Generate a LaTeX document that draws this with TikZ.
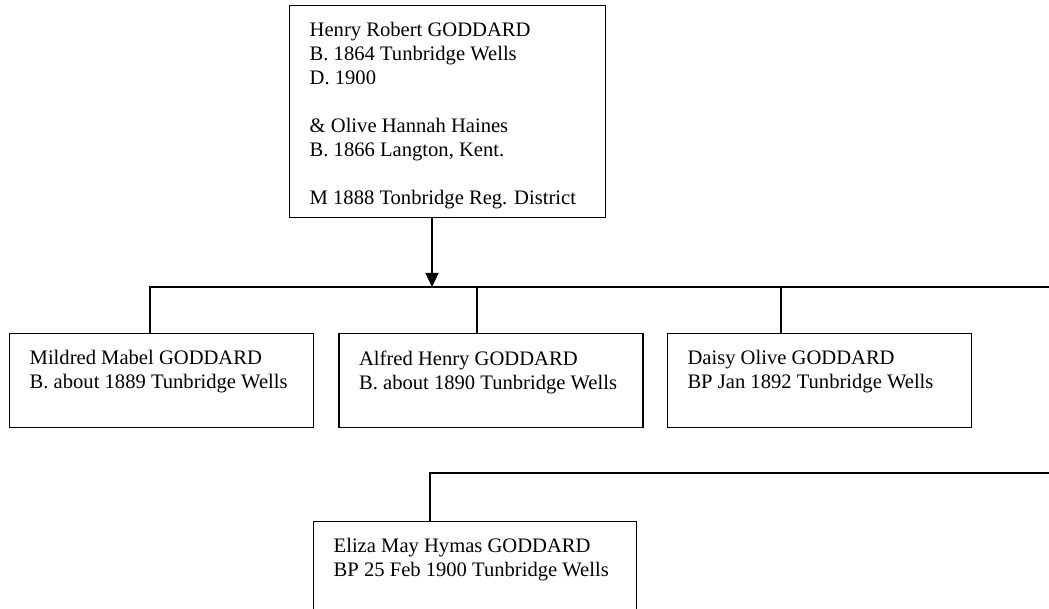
\documentclass[tikz,border=0pt]{standalone}
\usepackage{fontspec}
\setmainfont{Liberation Serif}
\usetikzlibrary{positioning,arrows.meta}

\begin{document}
\begin{tikzpicture}[x=1pt, y=-1pt, line width=1.4pt, >={Triangle[length=14pt,width=13pt]},
    person/.style={draw, rectangle, anchor=north west, inner xsep=20pt, inner ysep=0pt, font=\fontsize{20.6pt}{24pt}\selectfont}]
    \useasboundingbox (0,0) rectangle (1049,609);
    \clip (0,0) rectangle (1049,609);

    % Nodes
    \node [person] (parents) at (289,5) {\parbox[c][212pt][t]{276pt}{\raggedright\vspace*{17pt}Henry Robert GODDARD\\B. 1864 Tunbridge Wells\\D. 1900\\[24pt]\& Olive Hannah Haines\\B. 1866 Langton, Kent.\\[24pt]M 1888 Tonbridge Reg. District}};
    \node [person] (mildred) at (9,333) {\parbox[c][94pt][t]{264pt}{\raggedright\vspace*{17pt}Mildred Mabel GODDARD\\B. about 1889 Tunbridge Wells}};
    \node [person, right=24pt of mildred] (alfred) {\parbox[c][94pt][t]{264pt}{\raggedright\vspace*{17pt}Alfred Henry GODDARD\\B. about 1890 Tunbridge Wells}};
    \node [person, right=23pt of alfred] (daisy) {\parbox[c][94pt][t]{264pt}{\raggedright\vspace*{17pt}Daisy Olive GODDARD\\BP Jan 1892 Tunbridge Wells}};
    \node [person] (eliza) at (313,521) {\parbox[c][94pt][t]{283pt}{\raggedright\vspace*{17pt}Eliza May Hymas GODDARD\\BP 25 Feb 1900 Tunbridge Wells}};

    % Junctions
    \coordinate (arrowend) at (432,287);
    \coordinate (busleft) at (150,287);
    \coordinate (busright) at (1060,287);
    \coordinate (alfreddrop) at (477,287);
    \coordinate (daisydrop) at (781,287);
    \coordinate (elizabus) at (430,473);
    \coordinate (elizabusright) at (1060,473);

    % Paths
    \draw[->] (parents.south -| arrowend) -- (arrowend);
    \draw (mildred.north -| busleft) -- (busleft) -- (busright);
    \draw (alfreddrop) -- (alfreddrop |- alfred.north);
    \draw (daisydrop) -- (daisydrop |- daisy.north);
    \draw (eliza.north -| elizabus) -- (elizabus) -- (elizabusright);
\end{tikzpicture}
\end{document}
